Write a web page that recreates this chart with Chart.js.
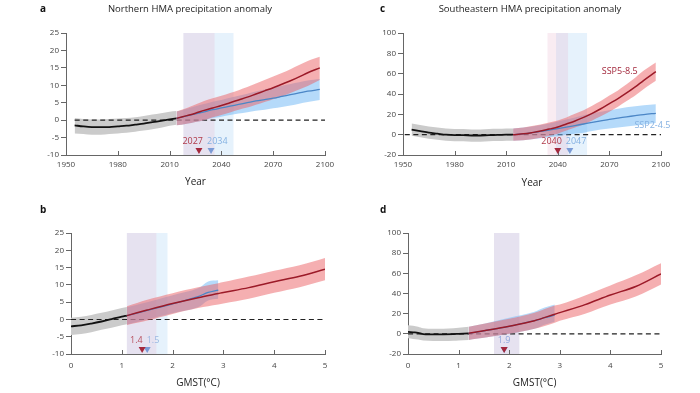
<!DOCTYPE html>
<html>
<head>
<meta charset="utf-8">
<script src="https://cdn.jsdelivr.net/npm/chart.js@4.4.0/dist/chart.umd.min.js"></script>
<style>
    body { margin: 0; background: #fff; width: 700px; height: 393px; overflow: hidden; position: relative; }
    canvas { position: absolute; }
</style>
</head>
<body>
<canvas id="chartA" style="left:0;top:0" width="350" height="190"></canvas>
<canvas id="chartC" style="left:350px;top:0" width="350" height="190"></canvas>
<canvas id="chartB" style="left:0;top:190px" width="350" height="203"></canvas>
<canvas id="chartD" style="left:350px;top:190px" width="350" height="203"></canvas>
<script>
// ---- panel a : Northern HMA, by year ----
const aHistX    = [1955, 1960, 1965, 1970, 1975, 1980, 1985, 1990, 1995, 2000, 2005, 2010, 2014];
const aHistMean = [-1.5, -1.8, -2.0, -2.0, -2.0, -1.8, -1.6, -1.3, -1.0, -0.6, -0.2, 0.2, 0.5];
const aHistLo   = [-3.8, -4.0, -4.2, -4.2, -4.0, -3.8, -3.6, -3.3, -3.0, -2.6, -2.2, -1.6, -1.3];
const aHistHi   = [0.6, 0.3, 0.2, 0.2, 0.3, 0.5, 0.6, 0.8, 1.2, 1.6, 2.0, 2.4, 2.6];
const aFutX     = [2014, 2020, 2025, 2030, 2035, 2040, 2045, 2050, 2055, 2060, 2065, 2070, 2075, 2080, 2085, 2090, 2097];
const aRedMean  = [0.5, 1.3, 2.0, 2.8, 3.5, 4.2, 5.0, 5.8, 6.6, 7.5, 8.4, 9.3, 10.3, 11.3, 12.4, 13.6, 15.0];
const aRedLo    = [-1.5, -1.0, -0.5, 0.0, 0.8, 1.5, 2.2, 3.0, 3.6, 4.4, 5.2, 6.0, 6.8, 7.8, 8.8, 9.8, 11.5];
const aRedHi    = [2.5, 3.5, 4.5, 5.5, 6.3, 7.0, 7.8, 8.6, 9.5, 10.5, 11.5, 12.5, 13.5, 14.6, 15.8, 17.0, 18.2];
const aBlueMean = [0.5, 1.2, 1.8, 2.4, 3.0, 3.5, 4.0, 4.5, 5.0, 5.5, 5.9, 6.3, 6.8, 7.3, 7.8, 8.3, 8.8];
const aBlueLo   = [-1.5, -1.0, -0.5, 0.0, 0.6, 1.0, 1.5, 1.9, 2.3, 2.7, 3.0, 3.4, 3.8, 4.2, 4.7, 5.2, 5.8];
const aBlueHi   = [2.5, 3.3, 4.0, 4.6, 5.3, 5.8, 6.4, 7.0, 7.6, 8.2, 8.8, 9.3, 9.9, 10.4, 10.9, 11.4, 11.8];
const aMarks    = [2027, 2034];

// ---- panel c : Southeastern HMA, by year ----
const cHistX    = [1955, 1960, 1965, 1970, 1975, 1980, 1985, 1990, 1995, 2000, 2005, 2010, 2014];
const cHistMean = [5, 3.5, 2, 1, 0, -0.5, -0.5, -0.8, -0.8, -0.5, -0.3, 0, 0];
const cHistLo   = [-1, -2.5, -4, -5, -6, -6.5, -6.5, -7, -7, -6.5, -6.3, -6, -6];
const cHistHi   = [11, 9.5, 8, 7, 6, 5.5, 5.5, 5.2, 5.2, 5.5, 5.7, 6, 6];
const cFutX     = [2014, 2020, 2025, 2030, 2035, 2040, 2045, 2050, 2055, 2060, 2065, 2070, 2075, 2080, 2085, 2090, 2097];
const cRedMean  = [0, 0.8, 2, 3.5, 5.5, 7.5, 10.5, 13.5, 17, 21, 25.5, 30.5, 35.5, 41, 47, 53.5, 62];
const cRedLo    = [-6, -5.5, -4.5, -3, -1, 1, 4, 7, 10, 14, 18, 22.5, 27.5, 33, 38.5, 45, 53];
const cRedHi    = [6, 7, 8.5, 10, 12, 14, 17, 20.5, 24, 28.5, 33, 38.5, 43.5, 49.5, 56, 63, 71];
const cBlueMean = [0, 0.8, 2, 3.2, 4.5, 6, 7.5, 9, 10.5, 12, 13.5, 15, 16.3, 17.5, 18.7, 19.8, 21];
const cBlueLo   = [-6, -5.5, -4.5, -3.5, -2.5, -1.5, 0, 1, 2, 3.5, 5, 6, 7, 8, 9, 10, 11.5];
const cBlueHi   = [6, 7, 8, 9.5, 11, 13, 15, 17, 19, 21, 22.5, 24, 25.5, 27, 28, 29, 30];
const cMarks    = [2040, 2047];

// ---- panel b : Northern HMA, by GMST ----
const bHistX    = [0, 0.2, 0.4, 0.6, 0.8, 1.0, 1.1];
const bHistMean = [-2, -1.7, -1.2, -0.6, 0.1, 0.8, 1.1];
const bHistLo   = [-4.5, -4.2, -3.7, -3, -2.4, -1.7, -1.4];
const bHistHi   = [0.5, 0.8, 1.3, 1.9, 2.6, 3.3, 3.6];
const bRedX     = [1.1, 1.5, 2.0, 2.5, 2.9, 3.0, 3.5, 4.0, 4.5, 5.0];
const bRedMean  = [1.1, 2.7, 4.6, 6.3, 7.5, 7.8, 9.2, 10.9, 12.5, 14.5];
const bRedLo    = [-1.6, -0.3, 1.6, 3.3, 4.3, 4.6, 6.0, 7.7, 9.3, 11.3];
const bRedHi    = [3.8, 5.7, 7.6, 9.3, 10.5, 10.8, 12.4, 14.1, 15.7, 17.8];
const bBlueX    = [1.1, 1.5, 2.0, 2.5, 2.7, 2.9];
const bBlueMean = [1.1, 2.6, 4.5, 6.6, 7.8, 8.5];
const bBlueLo   = [-1.5, 0, 1.8, 3.5, 5.5, 6];
const bBlueHi   = [3.5, 5, 7, 9, 11, 11.3];
const bMarks    = [1.4, 1.5];

// ---- panel d : Southeastern HMA, by GMST ----
const dHistX    = [0, 0.1, 0.2, 0.3, 0.5, 0.7, 0.9, 1.0, 1.2];
const dHistMean = [2, 1.5, 1, -0.3, -0.5, -0.5, -0.3, 0, 0.5];
const dHistLo   = [-4.5, -5, -5.5, -6.5, -7, -7, -6.8, -6.5, -6];
const dHistHi   = [8.5, 8, 7, 5.5, 5, 5, 5.5, 6, 7];
const dRedX     = [1.2, 1.5, 2.0, 2.5, 2.9, 3.0, 3.5, 4.0, 4.5, 5.0];
const dRedMean  = [0.5, 3, 7.5, 13, 19.5, 21, 29, 38.5, 47, 59.5];
const dRedLo    = [-6, -4, 0, 5, 11, 13, 20, 29, 37, 49];
const dRedHi    = [7, 10, 15, 21, 28, 29, 38, 48, 58, 70];
const dBlueX    = [1.2, 1.5, 2.0, 2.5, 2.7, 2.9];
const dBlueMean = [0.5, 3, 7.5, 13, 16, 18.5];
const dBlueLo   = [-6, -4, 0, 5, 9, 12];
const dBlueHi   = [7, 10, 16, 22, 26, 29];
const dMarks    = [1.9, 1.9];

const RED = '#9c1a28', BLUE = '#4b86c6';

Chart.defaults.font.family = "'Open Sans', 'DejaVu Sans', sans-serif";
Chart.defaults.animation = false;

function pts(xs, ys) {
    return xs.map((x, i) => ({ x: x, y: ys[i] }));
}

// draws panel letter/title, shaded windows, inward x ticks, markers, curve labels
const decor = {
    id: 'decor',
    beforeDatasetsDraw(chart, args, o) {
        const ctx = chart.ctx, x = chart.scales.x, a = chart.chartArea;
        ctx.save();
        o.windows.forEach(w => {
            const x0 = x.getPixelForValue(w.from), x1 = x.getPixelForValue(w.to);
            ctx.fillStyle = w.color;
            ctx.fillRect(x0, a.top, x1 - x0, a.bottom - a.top);
        });
        ctx.restore();
    },
    afterDraw(chart, args, o) {
        const ctx = chart.ctx, x = chart.scales.x, a = chart.chartArea;
        ctx.save();
        // inward tick marks on x axis
        ctx.strokeStyle = '#666';
        ctx.lineWidth = 1;
        x.ticks.forEach(t => {
            const px = Math.round(x.getPixelForValue(t.value)) + 0.5;
            ctx.beginPath();
            ctx.moveTo(px, a.bottom);
            ctx.lineTo(px, a.bottom - 4);
            ctx.stroke();
        });
        // markers (red first in list, blue second); labels sit side by side around their midpoint
        const pxs = o.marks.map(m => x.getPixelForValue(m.v));
        const mid = (pxs[0] + pxs[1]) / 2;
        const by = a.bottom - 1;
        [1, 0].forEach(i => {
            const m = o.marks[i], px = pxs[i];
            ctx.fillStyle = m.color;
            ctx.beginPath();
            ctx.moveTo(px - 3.5, by - 6);
            ctx.lineTo(px + 3.5, by - 6);
            ctx.lineTo(px, by);
            ctx.closePath();
            ctx.fill();
        });
        ctx.font = "9px 'Open Sans', sans-serif";
        ctx.textBaseline = 'middle';
        if (o.single) {
            ctx.fillStyle = o.marks[1].labelColor;
            ctx.textAlign = 'center';
            ctx.fillText(o.marks[1].label, mid, by - 13);
        } else {
            ctx.fillStyle = o.marks[0].labelColor;
            ctx.textAlign = 'right';
            ctx.fillText(o.marks[0].label, mid - 2, by - 13);
            ctx.fillStyle = o.marks[1].labelColor;
            ctx.textAlign = 'left';
            ctx.fillText(o.marks[1].label, mid + 2, by - 13);
        }
        // curve labels
        o.texts.forEach(t => {
            ctx.fillStyle = t.color;
            ctx.textAlign = 'center';
            ctx.fillText(t.text, x.getPixelForValue(t.x), chart.scales.y.getPixelForValue(t.y));
        });
        // panel letter and title
        ctx.fillStyle = '#111';
        ctx.font = "bold 10px 'Open Sans', sans-serif";
        ctx.textAlign = 'left';
        ctx.fillText(o.letter, o.letterX, o.letterY);
        if (o.title) {
            ctx.font = "9.5px 'Open Sans', sans-serif";
            ctx.fillStyle = '#222';
            ctx.textAlign = 'center';
            ctx.fillText(o.title, o.titleX, 9);
        }
        ctx.restore();
    }
};

function makePanel(id, p) {
    const gray = '#cbcbcb';
    const thin = { borderColor: 'transparent', borderWidth: 0 };
    new Chart(document.getElementById(id), {
        type: 'line',
        data: {
            datasets: [
                { data: pts(p.zeroX, [0, 0]), borderColor: '#222', borderWidth: 1.1, borderDash: [5, 3.5], order: 5 },
                Object.assign({ data: pts(p.histX, p.histLo), order: 9 }, thin),
                Object.assign({ data: pts(p.histX, p.histHi), fill: '-1', backgroundColor: gray, order: 9 }, thin),
                Object.assign({ data: pts(p.blueX, p.blueLo), order: 4 }, thin),
                Object.assign({ data: pts(p.blueX, p.blueHi), fill: '-1', backgroundColor: 'rgba(120,188,245,0.55)', order: 4 }, thin),
                Object.assign({ data: pts(p.redX, p.redLo), order: 3 }, thin),
                Object.assign({ data: pts(p.redX, p.redHi), fill: '-1', backgroundColor: 'rgba(236,95,100,0.5)', order: 3 }, thin),
                { data: pts(p.histX, p.histMean), borderColor: '#111', borderWidth: 1.8, order: 2 },
                { data: pts(p.blueX, p.blueMean), borderColor: BLUE, borderWidth: 1.3, order: 1.5 },
                { data: pts(p.redX, p.redMean), borderColor: RED, borderWidth: 1.5, order: 1 }
            ]
        },
        options: {
            responsive: false,
            devicePixelRatio: 1,
            elements: { point: { radius: 0 }, line: { tension: 0.35 } },
            layout: { padding: { left: 0, top: p.top, right: p.right, bottom: 0 } },
            scales: {
                x: {
                    type: 'linear',
                    min: p.xMin, max: p.xMax,
                    afterFit: s => { s.height = p.xH; },
                    ticks: { stepSize: p.xStep, font: { size: 8 }, color: '#444', padding: p.xPad, maxRotation: 0,
                             callback: v => String(v) },
                    grid: { drawOnChartArea: false, drawTicks: false },
                    border: { color: '#666' },
                    title: { display: true, text: p.xTitle, font: { size: 10 }, color: '#222', padding: { top: 0, bottom: p.titlePad } }
                },
                y: {
                    min: p.yMin, max: p.yMax,
                    afterFit: s => { s.width = p.left; },
                    ticks: { stepSize: p.yStep, font: { size: 8 }, color: '#444', padding: 2 },
                    grid: { drawOnChartArea: false, tickLength: 5, color: '#666' },
                    border: { color: '#666' }
                }
            },
            plugins: {
                legend: { display: false },
                tooltip: { enabled: false },
                decor: p.decor
            }
        },
        plugins: [decor]
    });
}

const pink = 'rgba(232,176,200,0.24)', sky = 'rgba(178,214,246,0.32)';
const redMark = '#a3283c', blueMark = '#7b9bd6';

makePanel('chartA', {
    histX: aHistX, histMean: aHistMean, histLo: aHistLo, histHi: aHistHi,
    redX: aFutX, redMean: aRedMean, redLo: aRedLo, redHi: aRedHi,
    blueX: aFutX, blueMean: aBlueMean, blueLo: aBlueLo, blueHi: aBlueHi,
    zeroX: [1955, 2100], xMin: 1950, xMax: 2100, xStep: 30, yMin: -10, yMax: 25, yStep: 5,
    left: 66, right: 25, top: 33, xH: 35, xPad: 5, titlePad: 2, xTitle: 'Year',
    decor: {
        letter: 'a', letterX: 40, letterY: 9, title: 'Northern HMA precipitation anomaly', titleX: 190,
        windows: [{ from: 2018, to: 2047, color: sky }, { from: 2018, to: 2036, color: pink }],
        marks: [
            { v: aMarks[0], color: redMark, label: String(aMarks[0]), labelColor: '#b03a4a' },
            { v: aMarks[1], color: blueMark, label: String(aMarks[1]), labelColor: '#86b2e2' }
        ],
        texts: []
    }
});

makePanel('chartC', {
    histX: cHistX, histMean: cHistMean, histLo: cHistLo, histHi: cHistHi,
    redX: cFutX, redMean: cRedMean, redLo: cRedLo, redHi: cRedHi,
    blueX: cFutX, blueMean: cBlueMean, blueLo: cBlueLo, blueHi: cBlueHi,
    zeroX: [1951, 2100], xMin: 1950, xMax: 2100, xStep: 30, yMin: -20, yMax: 100, yStep: 20,
    left: 53, right: 39, top: 33, xH: 35, xPad: 5, titlePad: 1, xTitle: 'Year',
    decor: {
        letter: 'c', letterX: 30, letterY: 9, title: 'Southeastern HMA precipitation anomaly', titleX: 180,
        windows: [{ from: 2039, to: 2057, color: sky }, { from: 2034, to: 2046, color: pink }],
        marks: [
            { v: cMarks[0], color: redMark, label: String(cMarks[0]), labelColor: '#b03a4a' },
            { v: cMarks[1], color: blueMark, label: String(cMarks[1]), labelColor: '#86b2e2' }
        ],
        texts: [
            { text: 'SSP5-8.5', x: 2076, y: 62.5, color: '#a3283c' },
            { text: 'SSP2-4.5', x: 2095, y: 9, color: '#86b2e2' }
        ]
    }
});

makePanel('chartB', {
    histX: bHistX, histMean: bHistMean, histLo: bHistLo, histHi: bHistHi,
    redX: bRedX, redMean: bRedMean, redLo: bRedLo, redHi: bRedHi,
    blueX: bBlueX, blueMean: bBlueMean, blueLo: bBlueLo, blueHi: bBlueHi,
    zeroX: [0, 5], xMin: 0, xMax: 5, xStep: 1, yMin: -10, yMax: 25, yStep: 5,
    left: 71, right: 25, top: 43, xH: 39, xPad: 7, titlePad: 4, xTitle: 'GMST(°C)',
    decor: {
        letter: 'b', letterX: 40, letterY: 20, title: '',
        windows: [{ from: 1.1, to: 1.9, color: sky }, { from: 1.1, to: 1.68, color: pink }],
        marks: [
            { v: bMarks[0], color: redMark, label: String(bMarks[0]), labelColor: '#b8505e' },
            { v: bMarks[1], color: blueMark, label: String(bMarks[1]), labelColor: '#9cb8e2' }
        ],
        texts: []
    }
});

makePanel('chartD', {
    histX: dHistX, histMean: dHistMean, histLo: dHistLo, histHi: dHistHi,
    redX: dRedX, redMean: dRedMean, redLo: dRedLo, redHi: dRedHi,
    blueX: dBlueX, blueMean: dBlueMean, blueLo: dBlueLo, blueHi: dBlueHi,
    zeroX: [0, 5], xMin: 0, xMax: 5, xStep: 1, yMin: -20, yMax: 100, yStep: 20,
    left: 58, right: 39, top: 43, xH: 39, xPad: 7, titlePad: 4, xTitle: 'GMST(°C)',
    decor: {
        letter: 'd', letterX: 30, letterY: 20, title: '', single: true,
        windows: [{ from: 1.7, to: 2.2, color: sky }, { from: 1.7, to: 2.2, color: pink }],
        marks: [
            { v: dMarks[0], color: redMark, label: String(dMarks[0]), labelColor: '#8fa6dc' },
            { v: dMarks[1], color: blueMark, label: String(dMarks[1]), labelColor: '#8fa6dc' }
        ],
        texts: []
    }
});
</script>
</body>
</html>
